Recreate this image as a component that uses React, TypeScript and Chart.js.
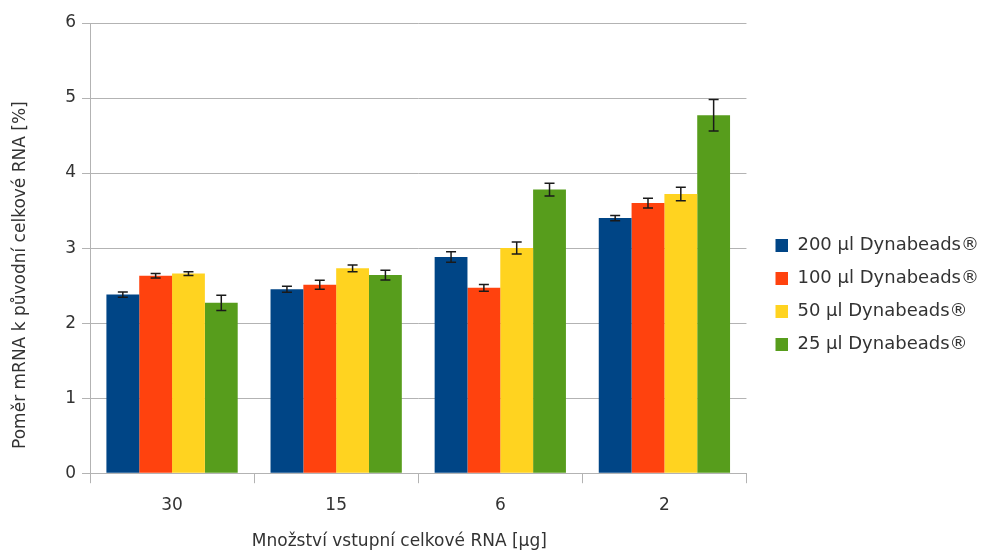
import React, { useEffect, useRef } from "react";
import { Chart, registerables } from "chart.js";

Chart.register(...registerables);

const categories = ["30", "15", "6", "2"];
const seriesLabels = [
  "200 µl Dynabeads®",
  "100 µl Dynabeads®",
  "50 µl Dynabeads®",
  "25 µl Dynabeads®",
];
const values200 = [2.38, 2.45, 2.88, 3.4];
const values100 = [2.63, 2.51, 2.47, 3.6];
const values50 = [2.66, 2.73, 3.0, 3.72];
const values25 = [2.27, 2.64, 3.78, 4.77];
const errors200 = [0.035, 0.04, 0.07, 0.035];
const errors100 = [0.03, 0.06, 0.045, 0.065];
const errors50 = [0.025, 0.045, 0.08, 0.09];
const errors25 = [0.1, 0.065, 0.085, 0.21];
const seriesColors = ["#004586", "#ff420e", "#ffd320", "#579d1c"];
const yTicks = [0, 1, 2, 3, 4, 5, 6];

const allValues = [values200, values100, values50, values25];
const allErrors = [errors200, errors100, errors50, errors25];

const FONT = "'DejaVu Sans', 'Liberation Sans', sans-serif";
const TEXT = "#333333";
const GRID = "#b3b3b3";

const errorBarPlugin = {
  id: "errorBars",
  afterDatasetsDraw(chart: any) {
    const { ctx } = chart;
    const yScale = chart.scales.y;
    ctx.save();
    ctx.strokeStyle = "#1a1a1a";
    ctx.lineWidth = 1.5;
    chart.data.datasets.forEach((ds: any, di: number) => {
      const meta = chart.getDatasetMeta(di);
      const errs = ds.errors as number[];
      meta.data.forEach((bar: any, i: number) => {
        const v = ds.data[i];
        const e = errs[i];
        const x = bar.x;
        const yTop = yScale.getPixelForValue(v + e);
        const yBot = yScale.getPixelForValue(v - e);
        const half = 5;
        ctx.beginPath();
        ctx.moveTo(x, yTop);
        ctx.lineTo(x, yBot);
        ctx.moveTo(x - half, yTop);
        ctx.lineTo(x + half, yTop);
        ctx.moveTo(x - half, yBot);
        ctx.lineTo(x + half, yBot);
        ctx.stroke();
      });
    });
    ctx.restore();
  },
};

// legend marker: a 13px square preceded by transparent space
function makeMarker(color: string): HTMLCanvasElement {
  const c = document.createElement("canvas");
  c.width = 27;
  c.height = 13;
  const g = c.getContext("2d")!;
  g.fillStyle = color;
  g.fillRect(14, 0, 13, 13);
  return c;
}

export default function App() {
  const canvasRef = useRef<HTMLCanvasElement | null>(null);

  useEffect(() => {
    if (!canvasRef.current) return;
    const markers = seriesColors.map(makeMarker);
    const chart = new Chart(canvasRef.current, {
      type: "bar",
      data: {
        labels: categories,
        datasets: seriesLabels.map((label, i) => ({
          label,
          data: allValues[i],
          errors: allErrors[i],
          backgroundColor: seriesColors[i],
          borderWidth: 0,
          categoryPercentage: 0.8,
          barPercentage: 1.0,
        })) as any,
      },
      options: {
        animation: false,
        responsive: false,
        devicePixelRatio: 1,
        layout: { padding: { top: 23, right: 3, bottom: 4, left: 0 } },
        plugins: {
          tooltip: { enabled: false },
          legend: {
            position: "right",
            title: { display: true, text: " ", font: { size: 10 }, padding: 1 },
            labels: {
              usePointStyle: true,
              pointStyleWidth: 27,
              boxWidth: 13,
              boxHeight: 13,
              padding: 15,
              color: TEXT,
              font: { family: FONT, size: 18 },
              generateLabels: (chart: any) => {
                const items = Chart.defaults.plugins.legend.labels.generateLabels(chart);
                return items.map((it: any, i: number) => ({ ...it, pointStyle: markers[i] }));
              },
            },
          },
        },
        scales: {
          x: {
            offset: true,
            grid: {
              offset: true,
              color: (c: any) =>
                c.index === 0 || c.index === categories.length ? GRID : "rgba(0,0,0,0)",
              tickColor: GRID,
              tickLength: 10,
              drawOnChartArea: true,
            },
            border: { display: true, color: GRID },
            ticks: {
              color: TEXT,
              font: { family: FONT, size: 17 },
              padding: 12,
            },
            title: {
              display: true,
              text: "Množství vstupní celkové RNA [µg]       ",
              color: TEXT,
              font: { family: FONT, size: 17 },
              padding: { top: 4, bottom: 0 },
            },
          },
          y: {
            min: 0,
            max: 6,
            afterBuildTicks: (axis: any) => {
              axis.ticks = yTicks.map((v) => ({ value: v }));
            },
            afterFit: (axis: any) => {
              axis.width = 90;
            },
            grid: {
              color: GRID,
              tickColor: GRID,
              tickLength: 8,
            },
            border: { display: true, color: GRID },
            ticks: {
              color: TEXT,
              font: { family: FONT, size: 17 },
              padding: 6,
            },
            title: {
              display: true,
              text: "Poměr mRNA k původní celkové RNA [%]          ",
              color: TEXT,
              font: { family: FONT, size: 17 },
              padding: { top: 10, bottom: 0 },
            },
          },
        },
      },
      plugins: [errorBarPlugin],
    });
    return () => chart.destroy();
  }, []);

  return (
    <div style={{ position: "fixed", left: 0, top: 0, width: 992, height: 556, background: "#fff" }}>
      <canvas ref={canvasRef} width={992} height={556} />
    </div>
  );
}
